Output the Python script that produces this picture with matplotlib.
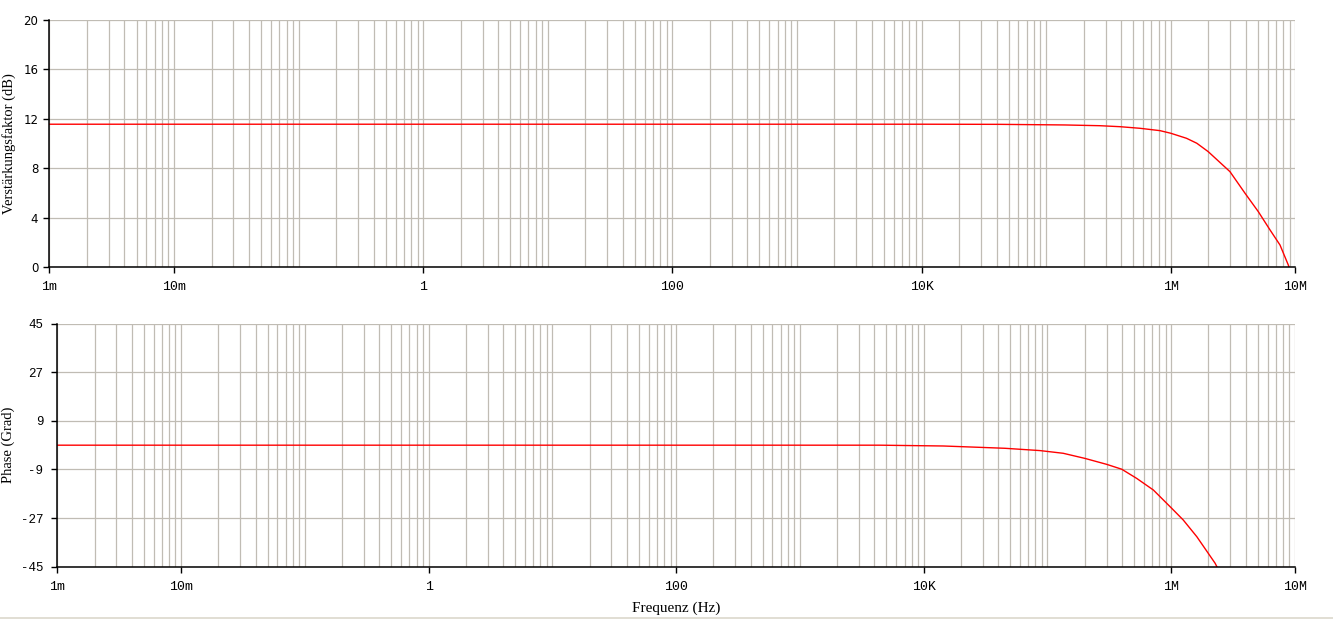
"""Bode plot: gain and phase over frequency."""

import matplotlib
matplotlib.use("Agg")
import matplotlib.pyplot as plt
from matplotlib.lines import Line2D
from matplotlib.ticker import LogLocator, NullFormatter

# Gain curve
freq_gain = [1e-3, 1e4, 4.25e4, 1.41e5, 2.7e5, 3.92e5, 5.67e5, 8.2e5, 1e6,
             1.34e6, 1.62e6, 2.0e6, 2.99e6, 3.95e6, 5.05e6, 6.27e6, 7.54e6,
             8.79e6, 9.2e6]
gain_db = [11.56, 11.56, 11.55, 11.50, 11.44, 11.36, 11.23, 11.04, 10.83,
           10.42, 10.02, 9.34, 7.72, 5.97, 4.48, 3.0, 1.78, 0.16, -0.4]

# Phase curve
freq_phase = [1e-3, 4.44e3, 1.44e4, 2.85e4, 4.54e4, 8.7e4, 1.34e5, 2.01e5,
              3.01e5, 3.98e5, 5.26e5, 7.17e5, 1.01e6, 1.25e6, 1.61e6, 2.26e6, 2.4e6]
phase_deg = [0, 0, -0.3, -0.8, -1.15, -2.0, -3.0, -4.9,
             -7.1, -8.9, -12.3, -16.6, -23.4, -27.7, -33.9, -43.7, -46.0]

# Axis ticks
xtick_vals = [1e-3, 1e-2, 1, 1e2, 1e4, 1e6, 1e7]
xtick_labels = ["1m", "10m", "1", "100", "10K", "1M", "10M"]
gain_ticks = [0, 4, 8, 12, 16, 20]
phase_ticks = [-45, -27, -9, 9, 27, 45]

grid_color = "#c0bcb4"
mono = "Liberation Mono"
serif = "Liberation Serif"

fig = plt.figure(figsize=(13.33, 6.19), dpi=100)
ax1 = fig.add_axes([0.0371, 0.5687, 0.9346, 0.3990])
ax2 = fig.add_axes([0.0430, 0.0845, 0.9285, 0.3926])


def style_axis(ax, yticks, ylim, ytick_font, ytick_size, ytick_pad):
    ax.set_xscale("log")
    ax.set_xlim(1e-3, 1e7)
    ax.set_ylim(*ylim)
    ax.set_xticks(xtick_vals)
    ax.set_xticklabels(xtick_labels, fontfamily=mono, fontsize=9.5)
    ax.xaxis.set_minor_locator(LogLocator(base=10, subs=range(1, 10), numticks=100))
    ax.xaxis.set_minor_formatter(NullFormatter())
    ax.xaxis.remove_overlapping_locs = False
    ax.set_yticks(yticks)
    ax.set_yticklabels([str(v) for v in yticks], fontfamily=ytick_font, fontsize=ytick_size)
    ax.tick_params(axis="x", which="major", length=4.5, width=1, pad=5.5, color="black")
    ax.tick_params(axis="x", which="minor", length=0)
    ax.tick_params(axis="y", length=4.5, width=1, pad=ytick_pad, color="black")
    ax.grid(which="minor", axis="x", color=grid_color, linewidth=0.9)
    ax.grid(which="major", axis="y", color=grid_color, linewidth=0.9)
    ax.set_axisbelow(True)
    for side in ("top", "right"):
        ax.spines[side].set_visible(False)
    for side in ("left", "bottom"):
        ax.spines[side].set_linewidth(1.1)
        ax.spines[side].set_zorder(5)


style_axis(ax1, gain_ticks, (0, 20), "DejaVu Sans", 8.5, 3.5)
style_axis(ax2, phase_ticks, (-45, 45), mono, 9, 5.5)

ax1.plot(freq_gain, gain_db, color="#ff0000", linewidth=1.0, zorder=3)
ax2.plot(freq_phase, phase_deg, color="#ff0000", linewidth=1.0, zorder=3)

fig.text(0.0071, 0.7685, "Verstärkungsfaktor (dB)", rotation=90, ha="center",
         va="center", fontfamily=serif, fontsize=10.5)
fig.text(0.0063, 0.281, "Phase (Grad)", rotation=90, ha="center",
         va="center", fontfamily=serif, fontsize=10.5)
fig.text(0.507, 0.0178, "Frequenz (Hz)", ha="center", va="center",
         fontfamily=serif, fontsize=11)

# thin frame line along the bottom edge of the window
fig.add_artist(Line2D([0, 1], [0.0023, 0.0023], transform=fig.transFigure,
                      color="#dcd8cc", linewidth=1.2))

fig.savefig("out.png", dpi=100)
